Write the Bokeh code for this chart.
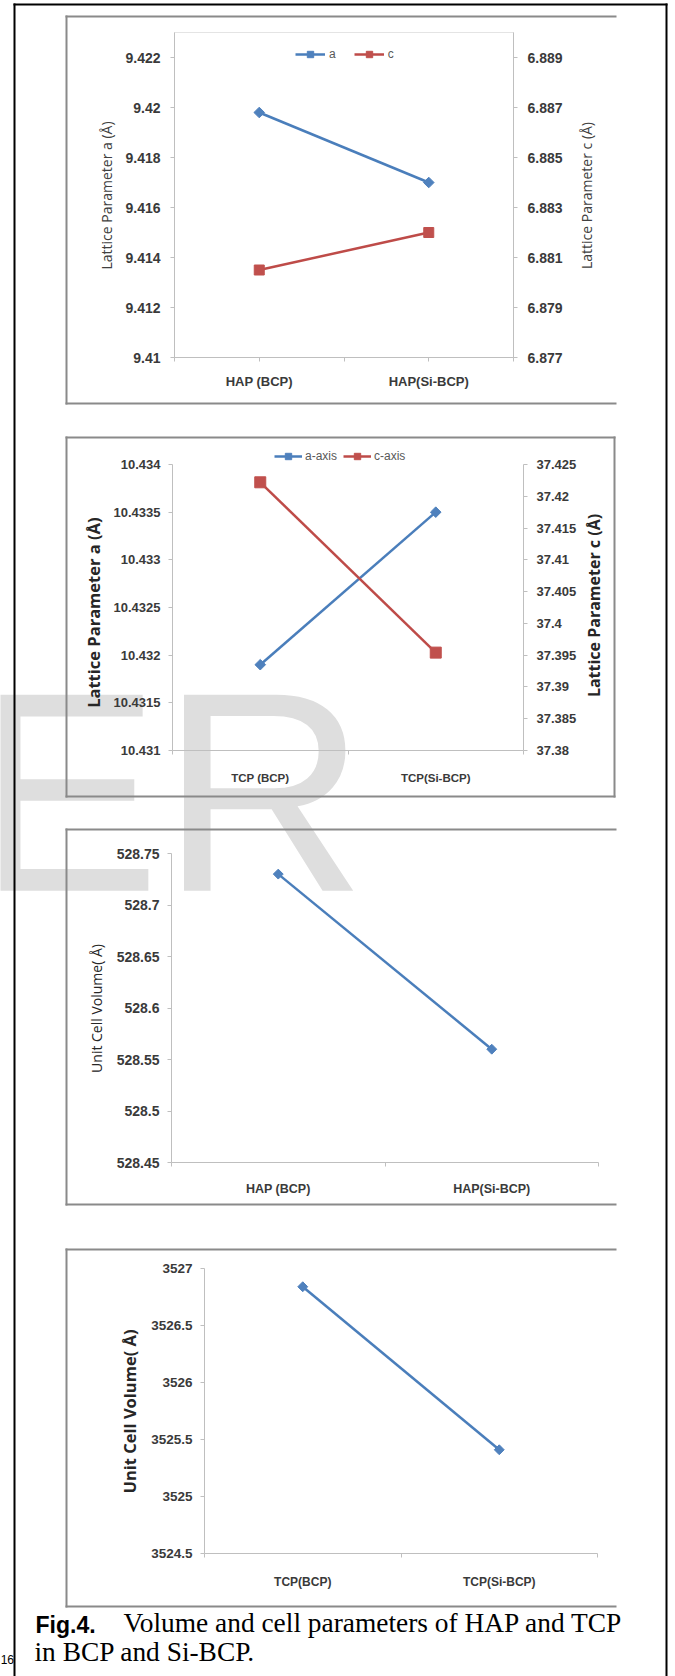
from bokeh.plotting import figure
from bokeh.models import (Range1d, LinearAxis, FixedTicker, CustomJSTickFormatter,
                          Legend, LegendItem, Label, BoxAnnotation)
from bokeh.embed import file_html
from bokeh.resources import INLINE
from bokeh.core.properties import value

# ---------------- data ----------------
hap_categories = ["HAP (BCP)", "HAP(Si-BCP)"]
hap_a = [9.4198, 9.4170]
hap_c = [6.8805, 6.8820]
hap_a_ticks = [9.41, 9.412, 9.414, 9.416, 9.418, 9.42, 9.422]
hap_c_ticks = [6.877, 6.879, 6.881, 6.883, 6.885, 6.887, 6.889]
hap_a_range = (9.41, 9.423)
hap_c_range = (6.877, 6.890)
hap_legend = ["a", "c"]

tcp_categories = ["TCP (BCP)", "TCP(Si-BCP)"]
tcp_a = [10.4319, 10.4335]
tcp_c = [37.4222, 37.3954]
tcp_a_ticks = [10.431, 10.4315, 10.432, 10.4325, 10.433, 10.4335, 10.434]
tcp_c_ticks = [37.38, 37.385, 37.39, 37.395, 37.4, 37.405, 37.41, 37.415, 37.42, 37.425]
tcp_a_range = (10.431, 10.434)
tcp_c_range = (37.38, 37.425)
tcp_legend = ["a-axis", "c-axis"]

hap_vol_categories = ["HAP (BCP)", "HAP(Si-BCP)"]
hap_volume = [528.73, 528.56]
hap_vol_ticks = [528.45, 528.5, 528.55, 528.6, 528.65, 528.7, 528.75]
hap_vol_range = (528.45, 528.75)

tcp_vol_categories = ["TCP(BCP)", "TCP(Si-BCP)"]
tcp_volume = [3526.84, 3525.41]
tcp_vol_ticks = [3524.5, 3525, 3525.5, 3526, 3526.5, 3527]
tcp_vol_range = (3524.5, 3527)

caption_bold = "Fig.4."
caption_line1 = "Volume and cell parameters of HAP and TCP"
caption_line2 = "in BCP and Si-BCP."

# ---------------- page / style ----------------
W, H = 675, 1676
BLUE_LINE, BLUE_MARK = "#4a7ebb", "#4f81bd"
RED_LINE, RED_MARK = "#be4b48", "#c0504d"
AXIS_COLOR = "#bfbfbf"
FRAME_COLOR = "#8a8a8a"
TICK_FONT = "Liberation Sans"
TITLE_FONT = "Open Sans"

# one page-sized canvas; default ranges are page pixels (y downwards)
p = figure(width=W, height=H, x_range=Range1d(0, W), y_range=Range1d(H, 0),
           x_axis_type=None, y_axis_type=None, min_border=0,
           toolbar_location=None, tools="", output_backend="svg")
p.outline_line_color = None
p.background_fill_color = "white"
p.border_fill_color = "white"


def lin_range(v0, p0, v1, p1, lo, hi):
    """Range whose values v0/v1 fall on page pixels p0/p1 of a canvas spanning lo..hi."""
    s = (v1 - v0) / (p1 - p0)
    return Range1d(start=v0 + (lo - p0) * s, end=v0 + (hi - p0) * s)


def cat_pos(cats):
    return [i + 0.5 for i, _ in enumerate(cats)]


def add_xrange(name, cats, px0, px1):
    p.extra_x_ranges[name] = lin_range(0, px0, len(cats), px1, 0, W)


def add_yrange(name, vr, py_bottom, py_top):
    p.extra_y_ranges[name] = lin_range(vr[0], py_bottom, vr[1], py_top, H, 0)


def y_axis(side, xr, yr, fixed, vr, ticks, lsize, lstand):
    ax = LinearAxis(x_range_name=xr, y_range_name=yr, fixed_location=fixed, bounds=vr,
                    ticker=FixedTicker(ticks=ticks),
                    formatter=CustomJSTickFormatter(code="return String(Number(tick.toPrecision(10)));"),
                    axis_line_color=AXIS_COLOR, axis_line_width=1,
                    major_tick_line_color=AXIS_COLOR, major_tick_out=4, major_tick_in=0,
                    minor_tick_line_color=None,
                    major_label_text_font=TICK_FONT, major_label_text_font_style="bold",
                    major_label_text_font_size=lsize, major_label_text_color="#3a3a3a",
                    major_label_standoff=lstand)
    p.add_layout(ax, side)


def x_axis(xr, yr, fixed, cats, major_out, lsize, lstand):
    bounds = [float(i) for i in range(len(cats) + 1)]
    ax = LinearAxis(x_range_name=xr, y_range_name=yr, fixed_location=fixed,
                    bounds=(0, len(cats)),
                    ticker=FixedTicker(ticks=cat_pos(cats), minor_ticks=bounds),
                    formatter=CustomJSTickFormatter(args=dict(labels=cats),
                                                    code="return labels[Math.floor(tick)];"),
                    axis_line_color=AXIS_COLOR, axis_line_width=1,
                    major_tick_line_color=AXIS_COLOR, major_tick_out=major_out, major_tick_in=0,
                    minor_tick_line_color=AXIS_COLOR, minor_tick_out=4, minor_tick_in=0,
                    major_label_text_font=TICK_FONT, major_label_text_font_style="bold",
                    major_label_text_font_size=lsize, major_label_text_color="#3a3a3a",
                    major_label_standoff=lstand)
    p.add_layout(ax, "below")


def title(x, y, text, size, style, color="#262626"):
    p.add_layout(Label(x=x, y=y, text=text, angle=90, angle_units="deg",
                       text_font=TITLE_FONT, text_font_size=size, text_font_style=style,
                       text_color=color, text_align="center", text_baseline="middle"))


def box(x0, x1, y0, y1, color):
    p.add_layout(BoxAnnotation(left=x0, right=x1, top=y0, bottom=y1,
                               fill_color=color, fill_alpha=1.0, line_color=None,
                               level="annotation"))


def chart_frame(top, bottom, right, closed):
    box(65, 67, top - 1, bottom + 1, FRAME_COLOR)
    box(65, right, top - 1, top + 1, FRAME_COLOR)
    box(65, right, bottom - 1, bottom + 1, FRAME_COLOR)
    if closed:
        box(right - 2, right, top - 1, bottom + 1, FRAME_COLOR)


def text(x, baseline, s, font, size_px, style="normal", color="black", align="left",
         level="annotation", mid=0.3465):
    # anchor the text at the middle of its line box (baseline - mid * font size)
    p.add_layout(Label(x=x, y=baseline - mid * size_px, text=s, text_font=font,
                       text_font_size=f"{size_px}px", text_font_style=style,
                       text_color=color, text_align=align, text_baseline="middle",
                       level=level))


def make_legend(items, loc, gw, standoff, spacing):
    p.add_layout(Legend(items=items, orientation="horizontal", location=loc,
                        glyph_width=gw, glyph_height=16, label_height=16, label_width=0,
                        label_standoff=standoff, spacing=spacing, padding=0, margin=0,
                        border_line_color=None, background_fill_alpha=0,
                        label_text_font=TICK_FONT, label_text_font_size="12px",
                        label_text_color="#595959"))


# ---------------- watermark (behind everything) ----------------
text(-30, 890, "ER", "Liberation Sans", 285, color="#dedede", level="underlay")

# ---------------- chart 1 : HAP lattice parameters ----------------
add_xrange("x1", hap_categories, 174, 513)
add_yrange("a1", hap_a_range, 357, 32)
add_yrange("c1", hap_c_range, 357, 32)
x1 = cat_pos(hap_categories)
p.add_layout(BoxAnnotation(left=0, right=len(hap_categories), bottom=hap_a_range[0], top=hap_a_range[1],
                           x_range_name="x1", y_range_name="a1", fill_alpha=0,
                           line_color="#a6a6a6", line_width=1, level="underlay"))
y_axis("left", "x1", "a1", 0, hap_a_range, hap_a_ticks, "14px", 10)
y_axis("right", "x1", "c1", len(hap_categories), hap_c_range, hap_c_ticks, "14px", 10)
x_axis("x1", "a1", hap_a_range[0], hap_categories, 4, "13px", 12)
la = p.line(x1, hap_a, line_color=BLUE_LINE, line_width=2.5, x_range_name="x1", y_range_name="a1")
sa = p.scatter(x1, hap_a, marker="square", angle=0.785398, size=7.5, fill_color=BLUE_MARK,
               line_color=BLUE_MARK, x_range_name="x1", y_range_name="a1")
lc = p.line(x1, hap_c, line_color=RED_LINE, line_width=2.5, x_range_name="x1", y_range_name="c1")
sc = p.scatter(x1, hap_c, marker="square", size=10, fill_color=RED_MARK, line_color=RED_MARK,
               x_range_name="x1", y_range_name="c1")
make_legend([LegendItem(label=value(hap_legend[0]), renderers=[la, sa]),
             LegendItem(label=value(hap_legend[1]), renderers=[lc, sc])],
            (295, H - 62), 30, 4, 18)
title(106, 195, "Lattice Parameter a (Å)", "14px", "normal", "#404040")
title(586, 195, "Lattice Parameter c (Å)", "14px", "normal", "#404040")
chart_frame(16, 403, 616, False)

# ---------------- chart 2 : TCP lattice parameters ----------------
add_xrange("x2", tcp_categories, 172, 523)
add_yrange("a2", tcp_a_range, 750, 464)
add_yrange("c2", tcp_c_range, 750, 464)
x2 = cat_pos(tcp_categories)
y_axis("left", "x2", "a2", 0, tcp_a_range, tcp_a_ticks, "13px", 8)
y_axis("right", "x2", "c2", len(tcp_categories), tcp_c_range, tcp_c_ticks, "13px", 9)
x_axis("x2", "a2", tcp_a_range[0], tcp_categories, 0, "11.5px", 17)
la2 = p.line(x2, tcp_a, line_color=BLUE_LINE, line_width=2.5, x_range_name="x2", y_range_name="a2")
sa2 = p.scatter(x2, tcp_a, marker="square", angle=0.785398, size=7.5, fill_color=BLUE_MARK,
                line_color=BLUE_MARK, x_range_name="x2", y_range_name="a2")
lc2 = p.line(x2, tcp_c, line_color=RED_LINE, line_width=2.5, x_range_name="x2", y_range_name="c2")
sc2 = p.scatter(x2, tcp_c, marker="square", size=11, fill_color=RED_MARK, line_color=RED_MARK,
                x_range_name="x2", y_range_name="c2")
make_legend([LegendItem(label=value(tcp_legend[0]), renderers=[la2, sa2]),
             LegendItem(label=value(tcp_legend[1]), renderers=[lc2, sc2])],
            (274, H - 464), 28, 3, 6)
title(93, 610, "Lattice  Parameter a (Å)", "16.5px", "bold")
title(593, 605, "Lattice Parameter c (Å)", "16px", "bold")
chart_frame(437, 796, 615, True)

# ---------------- chart 3 : HAP unit cell volume ----------------
add_xrange("x3", hap_vol_categories, 171, 598)
add_yrange("v3", hap_vol_range, 1162, 853)
x3 = cat_pos(hap_vol_categories)
y_axis("left", "x3", "v3", 0, hap_vol_range, hap_vol_ticks, "14px", 8)
x_axis("x3", "v3", hap_vol_range[0], hap_vol_categories, 0, "12.5px", 15)
p.line(x3, hap_volume, line_color=BLUE_LINE, line_width=2.5, x_range_name="x3", y_range_name="v3")
p.scatter(x3, hap_volume, marker="square", angle=0.785398, size=7, fill_color=BLUE_MARK,
          line_color=BLUE_MARK, x_range_name="x3", y_range_name="v3")
title(96, 1008, "Unit Cell Volume( Å)", "14px", "normal")
chart_frame(829, 1204, 616, False)

# ---------------- chart 4 : TCP unit cell volume ----------------
add_xrange("x4", tcp_vol_categories, 204, 597)
add_yrange("v4", tcp_vol_range, 1553, 1268)
x4 = cat_pos(tcp_vol_categories)
y_axis("left", "x4", "v4", 0, tcp_vol_range, tcp_vol_ticks, "13.5px", 8)
x_axis("x4", "v4", tcp_vol_range[0], tcp_vol_categories, 0, "12px", 17)
p.line(x4, tcp_volume, line_color=BLUE_LINE, line_width=2.5, x_range_name="x4", y_range_name="v4")
p.scatter(x4, tcp_volume, marker="square", angle=0.785398, size=7, fill_color=BLUE_MARK,
          line_color=BLUE_MARK, x_range_name="x4", y_range_name="v4")
title(129, 1411, "Unit Cell Volume( Å)", "16.5px", "bold")
chart_frame(1249, 1606, 616, False)

# ---------------- page border, caption ----------------
box(13, 15, 3, H, "black")
box(665, 667, 3, H, "black")
box(13, 667, 3, 5, "black")
text(35, 1632, caption_bold, "Liberation Sans", 23, style="bold")
text(123, 1632, caption_line1, "Liberation Serif", 27.4, mid=0.3375)
text(34, 1661, caption_line2, "Liberation Serif", 27.4, mid=0.3375)
text(13.5, 1663, "16", "Liberation Sans", 12, align="right")

html = file_html(p, INLINE, title="Fig.4")
html = html.replace("<head>", "<head>\n<style>html,body{margin:0;padding:0;}</style>", 1)
open("out.html", "w").write(html)
